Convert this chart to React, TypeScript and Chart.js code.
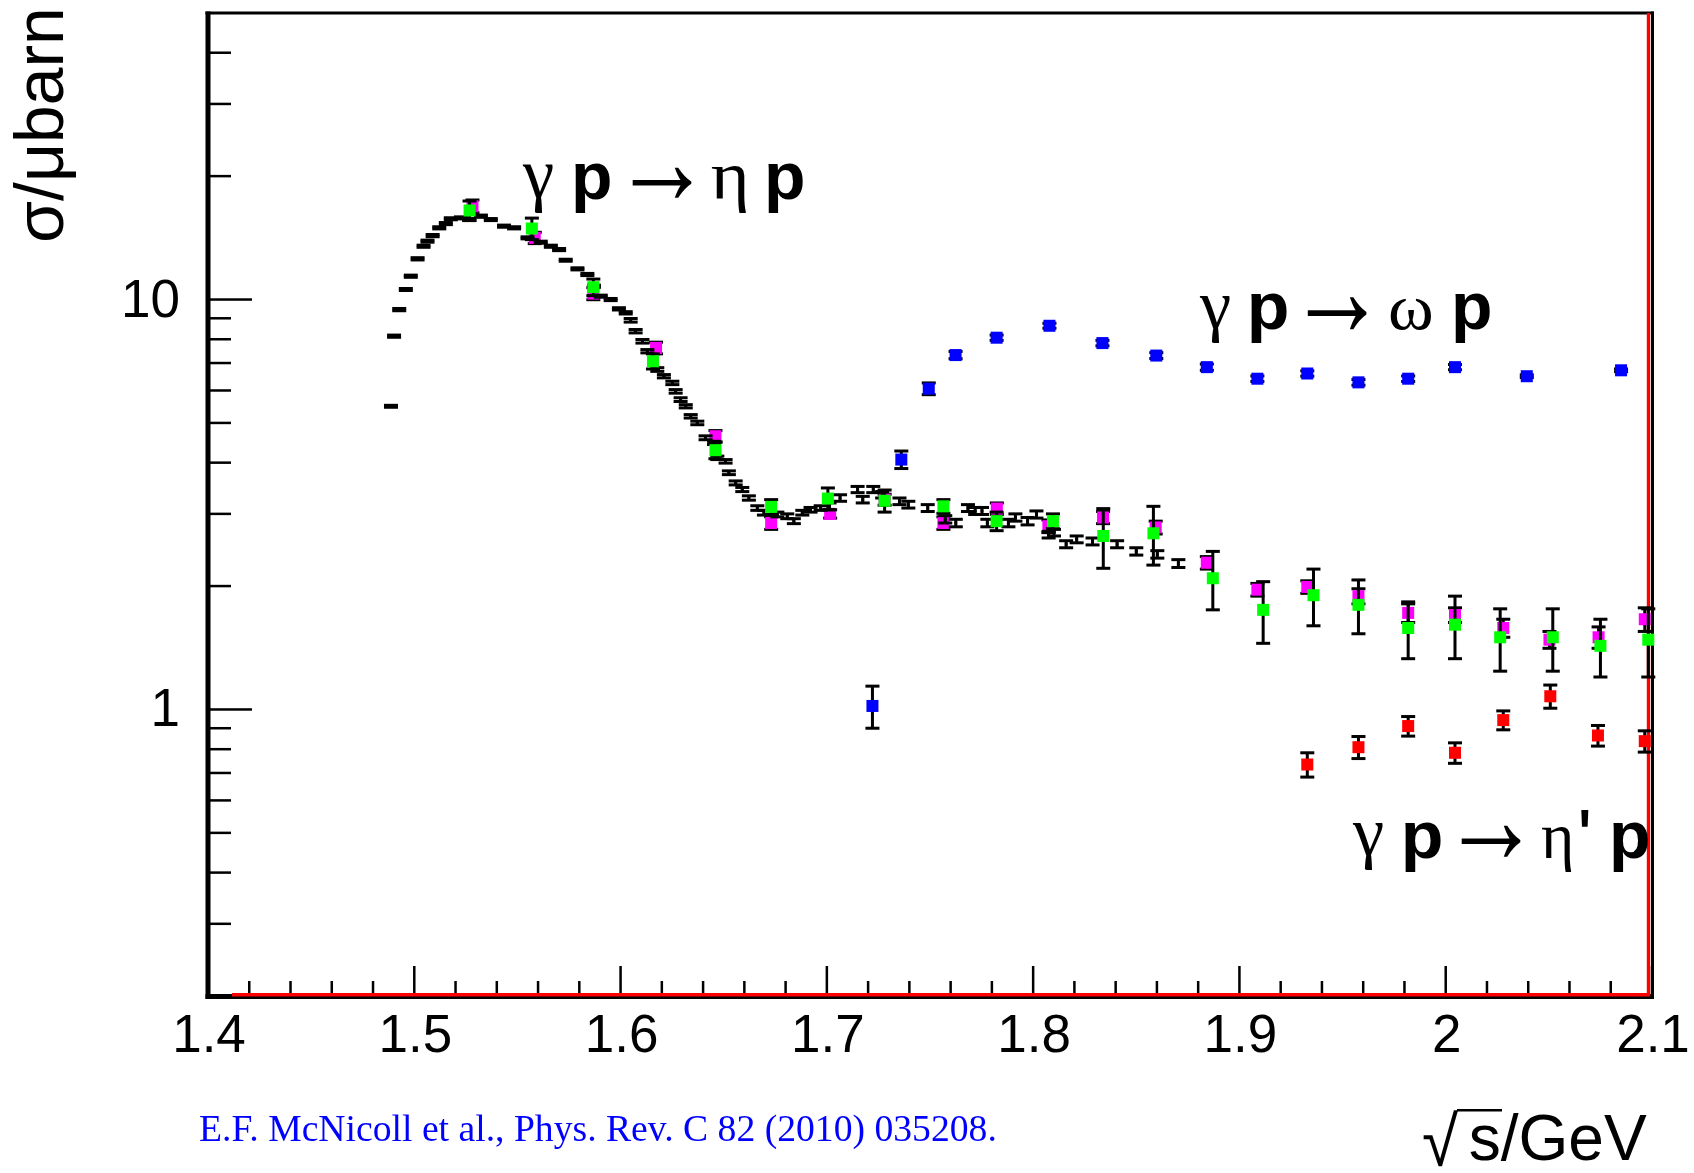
import { useEffect, useRef } from 'react';
import { Chart, registerables } from 'chart.js';

Chart.register(...registerables);

const WIDTH = 1694;
const HEIGHT = 1173;

// γp → ηp, Crystal Ball/TAPS at MAMI: √s (GeV), σ (μb), stat. error (μb)
const etaMamiW = [
  1.4887, 1.4902, 1.4927, 1.4959, 1.4983, 1.5016, 1.5045, 1.5064, 1.5089, 1.5121,
  1.5153, 1.5177, 1.5226, 1.5266, 1.5323, 1.5371, 1.5435, 1.5484, 1.5549, 1.5613,
  1.5662, 1.5702, 1.5734, 1.5791, 1.5839, 1.5871, 1.5904, 1.5952, 1.5992, 1.6025,
  1.6049, 1.6073, 1.6106, 1.6130, 1.6178, 1.6210, 1.6251, 1.6267, 1.6291, 1.6316,
  1.6340, 1.6372, 1.6412, 1.6453, 1.6469, 1.6509, 1.6525, 1.6558, 1.6590, 1.6622,
  1.6663, 1.6695, 1.6760, 1.6808, 1.6840, 1.6881, 1.6921, 1.6970, 1.7013, 1.7064,
  1.7149, 1.7174, 1.7225, 1.7268, 1.7352, 1.7395, 1.7489, 1.7574, 1.7625, 1.7684,
  1.7719, 1.7752, 1.7778, 1.7880, 1.7914, 1.7973, 1.8016, 1.8075, 1.8101, 1.8160,
  1.8211, 1.8288, 1.8407, 1.8500, 1.8602, 1.8704,
];
const etaMamiSigma = [
  5.49, 8.14, 9.45, 10.58, 11.4, 12.57, 13.49, 13.88, 14.32, 14.96,
  15.32, 15.74, 15.82, 15.67, 15.97, 15.67, 15.1, 14.96, 14.14, 13.8,
  13.49, 13.24, 12.47, 11.88, 11.51, 10.78, 10.19, 10.0, 9.49, 9.28,
  8.9, 8.37, 7.91, 7.48, 6.75, 6.5, 6.26, 5.97, 5.7, 5.49,
  5.19, 5.0, 4.6, 4.47, 4.11, 4.03, 3.78, 3.57, 3.44, 3.28,
  3.1, 3.02, 2.99, 2.96, 2.88, 3.02, 3.07, 3.1, 3.13, 3.28,
  3.44, 3.25, 3.44, 3.34, 3.22, 3.16, 3.1, 2.91, 2.85, 3.1,
  3.05, 3.05, 2.85, 2.85, 2.94, 2.88, 2.99, 2.67, 2.7, 2.53,
  2.6, 2.57, 2.53, 2.43, 2.39, 2.27,
];
const etaMamiErr = [
  0.03, 0.05, 0.06, 0.06, 0.07, 0.08, 0.08, 0.08, 0.09, 0.09,
  0.09, 0.09, 0.09, 0.09, 0.1, 0.09, 0.09, 0.09, 0.08, 0.08,
  0.08, 0.08, 0.07, 0.07, 0.07, 0.06, 0.06, 0.06, 0.06, 0.06,
  0.09, 0.08, 0.08, 0.07, 0.07, 0.06, 0.06, 0.06, 0.06, 0.05,
  0.05, 0.05, 0.05, 0.04, 0.04, 0.04, 0.04, 0.04, 0.04, 0.04,
  0.04, 0.04, 0.04, 0.04, 0.04, 0.04, 0.04, 0.04, 0.06, 0.06,
  0.06, 0.06, 0.06, 0.06, 0.06, 0.06, 0.06, 0.06, 0.06, 0.06,
  0.06, 0.06, 0.06, 0.06, 0.06, 0.06, 0.06, 0.05, 0.05, 0.05,
  0.05, 0.05, 0.05, 0.05, 0.05, 0.05,
];

// γp → ηp, second data set (magenta)
const etaSetBW = [
  1.5282, 1.5584, 1.5868, 1.6172, 1.646, 1.673, 1.7016, 1.728, 1.7565, 1.7824, 1.8074, 1.8339,
  1.8594, 1.8842, 1.9087, 1.9329, 1.9577, 1.9818, 2.0045, 2.0279, 2.0503, 2.0741, 2.0965,
];
const etaSetBSigma = [
  16.89, 14.14, 10.34, 7.62, 4.64, 2.85, 3.0, 3.25, 2.85, 3.09, 2.8, 2.94,
  2.78, 2.28, 1.96, 1.99, 1.89, 1.72, 1.7, 1.58, 1.48, 1.5, 1.66,
];
const etaSetBErr = [
  0.6, 0.45, 0.35, 0.25, 0.15, 0.1, 0.07, 0.1, 0.1, 0.1, 0.1, 0.1,
  0.1, 0.08, 0.07, 0.07, 0.08, 0.09, 0.07, 0.08, 0.07, 0.09, 0.11,
];

// γp → ηp, third data set (green)
const etaSetCW = [
  1.5268, 1.557, 1.5868, 1.6157, 1.646, 1.673, 1.7005, 1.728, 1.7565, 1.7823, 1.8096, 1.834,
  1.8583, 1.8871, 1.9115, 1.9359, 1.9577, 1.9818, 2.0045, 2.0264, 2.0519, 2.075, 2.0982,
];
const etaSetCSigma = [
  16.49, 14.9, 10.72, 7.07, 4.29, 3.12, 3.27, 3.23, 3.13, 2.88, 2.88, 2.65,
  2.69, 2.09, 1.75, 1.9, 1.8, 1.58, 1.61, 1.5, 1.5, 1.43, 1.48,
];
const etaSetCErr = [
  0.9, 0.9, 0.5, 0.3, 0.2, 0.13, 0.2, 0.2, 0.12, 0.15, 0.12, 0.44,
  0.44, 0.34, 0.3, 0.3, 0.27, 0.25, 0.28, 0.26, 0.26, 0.23, 0.28,
];

// γp → ωp
const omegaW = [
  1.7221, 1.7361, 1.7494, 1.7624, 1.7823, 1.8079, 1.8336, 1.8597,
  1.8842, 1.9087, 1.9329, 1.9577, 1.9818, 2.0045, 2.0393, 2.085,
];
const omegaSigma = [
  1.02, 4.07, 6.06, 7.32, 8.07, 8.63, 7.83, 7.3,
  6.84, 6.41, 6.6, 6.28, 6.41, 6.84, 6.5, 6.72,
];
const omegaErr = [
  0.12, 0.2, 0.2, 0.15, 0.12, 0.12, 0.12, 0.12,
  0.12, 0.1, 0.1, 0.1, 0.1, 0.1, 0.05, 0.05,
];

// γp → η'p
const etaPrimeW = [1.9329, 1.9577, 1.9818, 2.0045, 2.0279, 2.0507, 2.0738, 2.0965];
const etaPrimeSigma = [0.734, 0.809, 0.911, 0.784, 0.942, 1.077, 0.864, 0.837];
const etaPrimeErr = [0.05, 0.05, 0.05, 0.045, 0.05, 0.07, 0.05, 0.05];

// red η' outline running along the lower and right edges of the frame
const outlineW = [1.4116, 2.0983, 2.0983];
const outlineSigma = [0.2014, 0.2014, 50];

// axes
const xMin = 1.4;
const xMax = 2.1;
const yMin = 0.2;
const yMax = 50;
const xMajorTicks = [1.4, 1.5, 1.6, 1.7, 1.8, 1.9, 2.0, 2.1];
const xTickLabels = ['1.4', '1.5', '1.6', '1.7', '1.8', '1.9', '2', '2.1'];
const yMajorTicks = [1, 10];
const yTickLabels = ['1', '10'];
const yMinorTicks = [0.3, 0.4, 0.5, 0.6, 0.7, 0.8, 0.9, 2, 3, 4, 5, 6, 7, 8, 9, 20, 30, 40];

type Pt = { x: number; y: number; e: number };

const toPoints = (w: number[], s: number[], e: number[]): Pt[] =>
  w.map((x, i) => ({ x, y: s[i], e: e[i] }));

const markerSet = (label: string, data: Pt[], color: string, order: number, radius: number) => ({
  label,
  data,
  showLine: false,
  pointStyle: 'rect',
  pointRadius: radius,
  pointHoverRadius: radius,
  pointBorderWidth: 0,
  pointBackgroundColor: color,
  pointBorderColor: color,
  backgroundColor: color,
  borderColor: color,
  errorBars: true,
  order,
  clip: false,
});

// scale the ink box of a glyph onto a target rectangle
function fitGlyph(ctx: CanvasRenderingContext2D, text: string, font: string,
  x0: number, y0: number, x1: number, y1: number) {
  ctx.save();
  ctx.font = font;
  ctx.textAlign = 'left';
  ctx.textBaseline = 'alphabetic';
  const m = ctx.measureText(text);
  const w = m.actualBoundingBoxLeft + m.actualBoundingBoxRight;
  const h = m.actualBoundingBoxAscent + m.actualBoundingBoxDescent;
  ctx.translate(x0, y0);
  ctx.scale((x1 - x0) / w, (y1 - y0) / h);
  ctx.fillText(text, m.actualBoundingBoxLeft, m.actualBoundingBoxAscent);
  ctx.restore();
}

// font size giving the requested ink width
function sizeForWidth(ctx: CanvasRenderingContext2D, text: string, family: string, width: number) {
  ctx.font = `100px ${family}`;
  const m = ctx.measureText(text);
  return (100 * width) / (m.actualBoundingBoxLeft + m.actualBoundingBoxRight);
}

const SANS = '"Liberation Sans", Arial, sans-serif';
const SERIF = '"Liberation Serif", "Times New Roman", serif';

type Box = [string, string, number, number, number, number];

const reactionLabels: Box[][] = [
  [
    ['γ', `66px ${SERIF}`, 522, 165, 553, 213],
    ['p', `bold 66px ${SANS}`, 575, 163, 610, 213],
    ['→', `66px ${SANS}`, 632, 167, 692, 198],
    ['η', `66px ${SERIF}`, 712, 167, 747, 213],
    ['p', `bold 66px ${SANS}`, 768, 163, 803, 213],
  ],
  [
    ['γ', `66px ${SERIF}`, 1199, 297, 1230, 343],
    ['p', `bold 66px ${SANS}`, 1251, 293, 1287, 343],
    ['→', `66px ${SANS}`, 1307, 297, 1367, 330],
    ['ω', `66px ${SERIF}`, 1390, 298, 1431, 330],
    ['p', `bold 66px ${SANS}`, 1455, 293, 1490, 343],
  ],
  [
    ['γ', `66px ${SERIF}`, 1352, 823, 1383, 870],
    ['p', `bold 66px ${SANS}`, 1405, 822, 1441, 872],
    ['→', `66px ${SANS}`, 1461, 825, 1521, 857],
    ['η', `66px ${SERIF}`, 1542, 827, 1572, 872],
    ["'", `bold 66px ${SANS}`, 1581, 810, 1589, 827],
    ['p', `bold 66px ${SANS}`, 1613, 822, 1648, 872],
  ],
];

const rootFrame = {
  id: 'rootFrame',
  beforeDatasetsDraw(chart: any) {
    const { ctx, chartArea: a } = chart;
    const xs = chart.scales.x;
    const ys = chart.scales.y;
    ctx.save();
    ctx.fillStyle = '#000';
    // frame
    ctx.fillRect(a.left - 2.5, a.top - 1.5, a.right - a.left + 4, 3);
    ctx.fillRect(a.left - 2.5, a.top - 1.5, 5, a.bottom - a.top + 4.5);
    ctx.fillRect(a.left - 2.5, a.bottom - 2, a.right - a.left + 4, 5);
    ctx.fillRect(a.right - 1, a.top - 1.5, 3, a.bottom - a.top + 4.5);
    // x ticks, pointing into the pad
    for (const v of xMajorTicks) {
      const px = xs.getPixelForValue(v);
      ctx.fillRect(px - 1.25, a.bottom - 30, 2.5, 30);
    }
    for (let k = 1; k < 35; k++) {
      if (k % 5 === 0) continue;
      const px = xs.getPixelForValue(xMin + k * 0.02);
      ctx.fillRect(px - 1.25, a.bottom - 15, 2.5, 15);
    }
    // y ticks
    for (const v of yMajorTicks) {
      const py = ys.getPixelForValue(v);
      ctx.fillRect(a.left, py - 1.25, 44, 2.5);
    }
    for (const v of yMinorTicks) {
      const py = ys.getPixelForValue(v);
      ctx.fillRect(a.left, py - 1.25, 23, 2.5);
    }
    ctx.restore();
  },
  beforeDatasetDraw(chart: any, args: any) {
    const ds = chart.data.datasets[args.index];
    if (!ds.errorBars) return;
    const { ctx } = chart;
    const xs = chart.scales.x;
    const ys = chart.scales.y;
    ctx.save();
    ctx.fillStyle = '#000';
    for (const p of ds.data as Pt[]) {
      if (!p.e) continue;
      const px = xs.getPixelForValue(p.x);
      const yt = ys.getPixelForValue(p.y + p.e);
      const yb = ys.getPixelForValue(p.y - p.e);
      ctx.fillRect(px - 1.5, yt, 3, yb - yt);
      ctx.fillRect(px - 7, yt - 1.5, 14, 3);
      ctx.fillRect(px - 7, yb - 1.5, 14, 3);
    }
    ctx.restore();
  },
  afterDraw(chart: any) {
    const { ctx } = chart;
    const xs = chart.scales.x;
    const ys = chart.scales.y;
    ctx.save();
    ctx.fillStyle = '#000';
    ctx.textBaseline = 'alphabetic';

    // tick labels
    ctx.font = `53px ${SANS}`;
    ctx.textAlign = 'center';
    xMajorTicks.forEach((v, i) => {
      ctx.fillText(xTickLabels[i], xs.getPixelForValue(v) + 1, 1052);
    });
    ctx.textAlign = 'right';
    yMajorTicks.forEach((v, i) => {
      ctx.fillText(yTickLabels[i], 180, ys.getPixelForValue(v) + 17);
    });

    // y title, rotated, ending at the top of the axis
    ctx.textAlign = 'left';
    const yTitle = 'σ/μbarn';
    const ySize = sizeForWidth(ctx, yTitle, SANS, 229);
    ctx.save();
    ctx.translate(63, 11);
    ctx.rotate(-Math.PI / 2);
    ctx.font = `${ySize}px ${SANS}`;
    const ym = ctx.measureText(yTitle);
    ctx.fillText(yTitle, -ym.actualBoundingBoxRight, 0);
    ctx.restore();

    // x title √s/GeV
    fitGlyph(ctx, '√', `64px ${SANS}`, 1423, 1110, 1459, 1167);
    ctx.fillRect(1457, 1109, 45, 2.5);
    const xTitle = 's/GeV';
    const xSize = sizeForWidth(ctx, xTitle, SANS, 177);
    ctx.font = `${xSize}px ${SANS}`;
    const xm = ctx.measureText(xTitle);
    ctx.fillText(xTitle, 1647 - xm.actualBoundingBoxRight, 1160);

    // reaction labels
    for (const label of reactionLabels) {
      for (const [t, f, x0, y0, x1, y1] of label) fitGlyph(ctx, t, f, x0, y0, x1, y1);
    }

    // reference
    const cite = 'E.F. McNicoll et al., Phys. Rev. C 82 (2010) 035208.';
    const cSize = sizeForWidth(ctx, cite, SERIF, 795);
    ctx.font = `${cSize}px ${SERIF}`;
    ctx.fillStyle = '#0000ff';
    const cm = ctx.measureText(cite);
    ctx.fillText(cite, 200 + cm.actualBoundingBoxLeft, 1141);
    ctx.restore();
  },
};

export default function App() {
  const ref = useRef<HTMLCanvasElement>(null);

  useEffect(() => {
    const canvas = ref.current;
    if (!canvas) return;
    const chart = new Chart(canvas, {
      type: 'scatter',
      data: {
        datasets: [
          {
            label: "η' outline",
            data: outlineW.map((x, i) => ({ x, y: outlineSigma[i] })),
            showLine: true,
            borderColor: '#ff0000',
            borderWidth: 3.4,
            pointRadius: 0,
            pointHoverRadius: 0,
            fill: false,
            order: 6,
            clip: false,
          },
          markerSet('ηp (magenta)', toPoints(etaSetBW, etaSetBSigma, etaSetBErr), '#ff00ff', 5, 8.5),
          markerSet('ηp MAMI', toPoints(etaMamiW, etaMamiSigma, etaMamiErr), '#000000', 4, 2),
          markerSet('ηp (green)', toPoints(etaSetCW, etaSetCSigma, etaSetCErr), '#00ff00', 3, 8.5),
          markerSet('ωp', toPoints(omegaW, omegaSigma, omegaErr), '#0000ff', 2, 8.5),
          markerSet("η'p", toPoints(etaPrimeW, etaPrimeSigma, etaPrimeErr), '#ff0000', 1, 8.5),
        ] as any,
      },
      options: {
        responsive: false,
        animation: false,
        devicePixelRatio: 1,
        events: [],
        layout: { padding: { left: 208, top: 13, right: 42, bottom: 177 } },
        plugins: { legend: { display: false }, tooltip: { enabled: false } },
        scales: {
          x: { type: 'linear', min: xMin, max: xMax, display: false },
          y: { type: 'logarithmic', min: yMin, max: yMax, display: false },
        },
      },
      plugins: [rootFrame],
    });
    return () => chart.destroy();
  }, []);

  return (
    <div style={{ position: 'absolute', left: 0, top: 0, width: WIDTH, height: HEIGHT, background: '#ffffff' }}>
      <canvas ref={ref} width={WIDTH} height={HEIGHT} style={{ display: 'block', width: WIDTH, height: HEIGHT }} />
    </div>
  );
}
